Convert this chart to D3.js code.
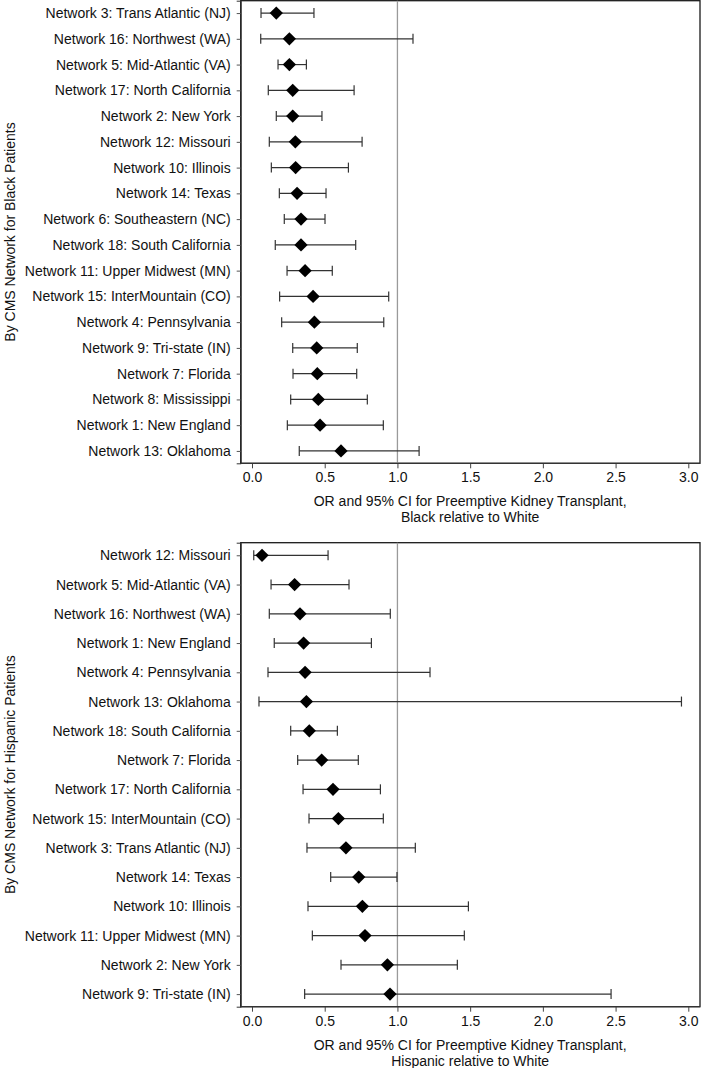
<!DOCTYPE html>
<html>
<head>
<meta charset="utf-8">
<script src="https://cdn.jsdelivr.net/npm/d3@7"></script>
<style>
  body { margin: 0; background: #fff; }
  svg { display: block; font-family: "Liberation Sans", Arial, sans-serif; }
</style>
</head>
<body>
<div id="chart"></div>
<script>
// Black relative to White
const blackNetworks = [
  'Network 3: Trans Atlantic (NJ)', 'Network 16: Northwest (WA)', 'Network 5: Mid-Atlantic (VA)',
  'Network 17: North California', 'Network 2: New York', 'Network 12: Missouri',
  'Network 10: Illinois', 'Network 14: Texas', 'Network 6: Southeastern (NC)',
  'Network 18: South California', 'Network 11: Upper Midwest (MN)', 'Network 15: InterMountain (CO)',
  'Network 4: Pennsylvania', 'Network 9: Tri-state (IN)', 'Network 7: Florida',
  'Network 8: Mississippi', 'Network 1: New England', 'Network 13: Oklahoma'
];
const blackOR = [0.167, 0.257, 0.257, 0.28, 0.28, 0.298, 0.30, 0.31, 0.337, 0.337, 0.365, 0.42, 0.429, 0.445, 0.449, 0.456, 0.468, 0.612];
const blackLo = [0.062, 0.06, 0.179, 0.112, 0.167, 0.119, 0.133, 0.188, 0.222, 0.16, 0.241, 0.19, 0.204, 0.28, 0.282, 0.266, 0.243, 0.325];
const blackHi = [0.426, 1.107, 0.374, 0.702, 0.481, 0.757, 0.663, 0.509, 0.502, 0.713, 0.552, 0.94, 0.906, 0.724, 0.72, 0.793, 0.903, 1.149];

// Hispanic relative to White
const hispNetworks = [
  'Network 12: Missouri', 'Network 5: Mid-Atlantic (VA)', 'Network 16: Northwest (WA)',
  'Network 1: New England', 'Network 4: Pennsylvania', 'Network 13: Oklahoma',
  'Network 18: South California', 'Network 7: Florida', 'Network 17: North California',
  'Network 15: InterMountain (CO)', 'Network 3: Trans Atlantic (NJ)', 'Network 14: Texas',
  'Network 10: Illinois', 'Network 11: Upper Midwest (MN)', 'Network 2: New York',
  'Network 9: Tri-state (IN)'
];
const hispOR = [0.069, 0.293, 0.33, 0.355, 0.365, 0.374, 0.394, 0.479, 0.557, 0.594, 0.646, 0.734, 0.759, 0.777, 0.931, 0.949];
const hispLo = [0.012, 0.131, 0.119, 0.153, 0.11, 0.048, 0.266, 0.314, 0.351, 0.392, 0.378, 0.541, 0.385, 0.415, 0.612, 0.362];
const hispHi = [0.523, 0.667, 0.951, 0.821, 1.224, 2.953, 0.587, 0.731, 0.883, 0.903, 1.123, 0.997, 1.488, 1.46, 1.412, 2.469];

const xTicks = [0, 0.5, 1, 1.5, 2, 2.5, 3];

const W = 701, H = 1068;
const FS = 14;
const svg = d3.select('#chart').append('svg').attr('width', W).attr('height', H);

// shared x scale: 0 -> 252px, 3 -> 688px
const x = d3.scaleLinear().domain([0, 3]).range([252, 688.3]);
const boxLeft = 240.7, boxRight = 700;

function panel(opts) {
  const rows = opts.names.map((n, i) => ({ name: n, or: opts.or[i], lo: opts.lo[i], hi: opts.hi[i] }));
  const y = d3.scalePoint().domain(opts.names).range([opts.top, opts.bottom]).padding(opts.pad);
  const g = svg.append('g');

  // frame
  g.append('rect')
    .attr('x', boxLeft).attr('y', opts.top)
    .attr('width', boxRight - boxLeft).attr('height', opts.bottom - opts.top)
    .attr('fill', 'none').attr('stroke', '#1a1a1a').attr('stroke-width', 1.3);

  // reference line at OR = 1
  g.append('line')
    .attr('x1', x(1)).attr('x2', x(1))
    .attr('y1', opts.top).attr('y2', opts.bottom)
    .attr('stroke', '#9a9a9a').attr('stroke-width', 1.3);

  // y axis
  const yAxis = d3.axisLeft(y).tickSize(4).tickPadding(6);
  const ya = g.append('g').attr('transform', `translate(${boxLeft},0)`).call(yAxis);
  ya.select('.domain').attr('stroke', '#333');
  ya.selectAll('.tick line').attr('stroke', '#555');
  ya.selectAll('.tick text').attr('font-size', FS).attr('fill', '#111')
    .attr('font-family', '"Liberation Sans", Arial, sans-serif');

  // x axis
  const xAxis = d3.axisBottom(x).tickValues(xTicks).tickFormat(d3.format('.1f')).tickSize(5).tickPadding(4);
  const xa = g.append('g').attr('transform', `translate(0,${opts.bottom})`).call(xAxis);
  xa.select('.domain').remove();
  xa.selectAll('.tick line').attr('stroke', '#444');
  xa.selectAll('.tick text').attr('font-size', FS).attr('fill', '#111')
    .attr('font-family', '"Liberation Sans", Arial, sans-serif');
  g.append('line')
    .attr('x1', boxLeft).attr('x2', boxRight)
    .attr('y1', opts.bottom).attr('y2', opts.bottom)
    .attr('stroke', '#333').attr('stroke-width', 1.3);

  // axis titles
  const xt = g.append('text')
    .attr('x', x(1.5)).attr('y', opts.bottom + 43)
    .attr('text-anchor', 'middle').attr('font-size', FS).attr('fill', '#111');
  xt.append('tspan').attr('x', x(1.5)).text('OR and 95% CI for Preemptive Kidney Transplant,');
  xt.append('tspan').attr('x', x(1.5)).attr('dy', 16).text(opts.xTitle2);

  g.append('text')
    .attr('transform', `translate(15,${(opts.top + opts.bottom) / 2}) rotate(-90)`)
    .attr('text-anchor', 'middle').attr('font-size', FS).attr('fill', '#111')
    .text(opts.yTitle);

  // error bars
  const bars = g.selectAll('.ci').data(rows).enter().append('g').attr('class', 'ci');
  bars.append('line')
    .attr('x1', d => x(d.lo)).attr('x2', d => x(d.hi))
    .attr('y1', d => y(d.name)).attr('y2', d => y(d.name))
    .attr('stroke', '#333').attr('stroke-width', 1.2);
  bars.append('line')
    .attr('x1', d => x(d.lo)).attr('x2', d => x(d.lo))
    .attr('y1', d => y(d.name) - 5).attr('y2', d => y(d.name) + 5)
    .attr('stroke', '#333').attr('stroke-width', 1.2);
  bars.append('line')
    .attr('x1', d => x(d.hi)).attr('x2', d => x(d.hi))
    .attr('y1', d => y(d.name) - 5).attr('y2', d => y(d.name) + 5)
    .attr('stroke', '#333').attr('stroke-width', 1.2);

  // point estimates
  const diamond = d3.symbol().type(d3.symbolSquare).size(88);
  g.selectAll('.pt').data(rows).enter().append('path')
    .attr('class', 'pt')
    .attr('d', diamond)
    .attr('transform', d => `translate(${x(d.or)},${y(d.name)}) rotate(45)`)
    .attr('fill', '#000');
}

panel({
  names: blackNetworks, or: blackOR, lo: blackLo, hi: blackHi,
  top: 0.7, bottom: 463.3, pad: 0.48,
  xTitle2: 'Black relative to White',
  yTitle: 'By CMS Network for Black Patients'
});

panel({
  names: hispNetworks, or: hispOR, lo: hispLo, hi: hispHi,
  top: 542.7, bottom: 1006.7, pad: 0.43,
  xTitle2: 'Hispanic relative to White',
  yTitle: 'By CMS Network for Hispanic Patients'
});
</script>
</body>
</html>
